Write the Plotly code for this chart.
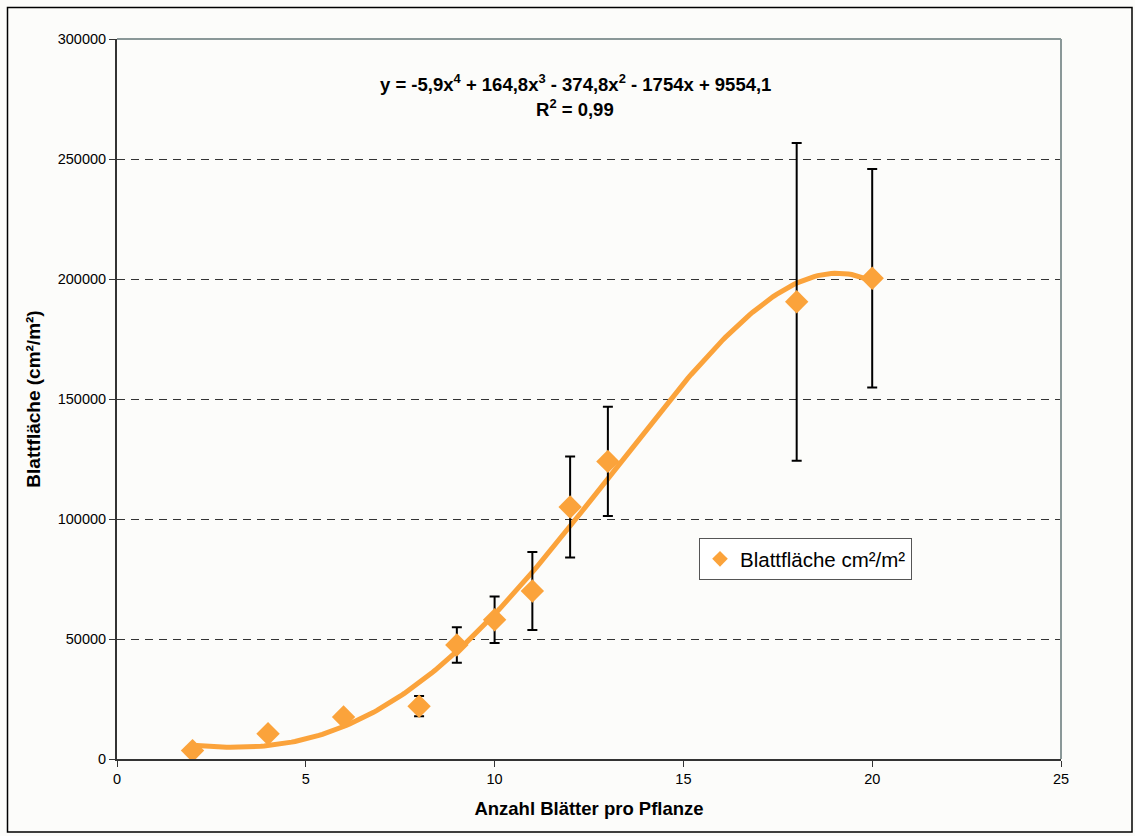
import numpy as np
import plotly.graph_objects as go

# Data
blaetter = [2, 4, 6, 8, 9, 10, 11, 12, 13, 18, 20]
flaeche = [3500, 10500, 17500, 22000, 47500, 58000, 70000, 105000, 124000, 190500, 200300]
fehler = [0, 0, 0, 4200, 7400, 9700, 16300, 21000, 22800, 66200, 45500]
# polynomial trend coefficients (from the equation shown, highest power first)
trend_coef = [-5.9, 164.8, -374.8, -1754, 9554.1]

x_ticks = [0, 5, 10, 15, 20, 25]
y_ticks = [0, 50000, 100000, 150000, 200000, 250000, 300000]

orange = "#fba33b"
font = "Liberation Sans, Arial, sans-serif"

xs = np.linspace(min(blaetter), max(blaetter), 200)
ys = np.polyval(trend_coef, xs)

fig = go.Figure()
fig.add_trace(go.Scatter(x=xs, y=ys, mode="lines", line=dict(color=orange, width=5),
                         showlegend=False, hoverinfo="skip"))
fig.add_trace(go.Scatter(
    x=blaetter, y=flaeche, mode="markers", name="Blattfläche cm²/m²",
    marker=dict(symbol="diamond", size=18, color=orange),
    error_y=dict(type="data", array=fehler, visible=True, color="#000000", thickness=2, width=5),
))

W, H = 1135, 836
L, R, T, B = 117, 1061, 39, 759

def px(xp):
    return (xp - L) / (R - L)

def py(yp):
    return (B - yp) / (B - T)

fig.update_layout(
    width=W, height=H,
    margin=dict(l=L, r=W - R, t=T, b=H - B),
    paper_bgcolor="#fcfcfa", plot_bgcolor="#fcfcfa",
    font=dict(family=font, color="#000000", size=15),
    showlegend=True,
    legend=dict(x=px(699), y=py(538), xanchor="left", yanchor="top",
                bgcolor="#ffffff", bordercolor="#555555", borderwidth=1,
                font=dict(size=20.5, family=font), itemsizing="constant"),
    xaxis=dict(range=[0, 25], tickvals=x_ticks, ticks="outside", ticklen=6, tickwidth=1,
               tickcolor="#333333", showgrid=False, zeroline=False,
               showline=True, linecolor="#333333", linewidth=2,
               tickfont=dict(size=14.5, family=font),
               title=dict(text="<b>Anzahl Blätter pro Pflanze</b>", font=dict(size=18.5, family=font), standoff=16)),
    yaxis=dict(range=[0, 300000], tickvals=y_ticks, ticks="outside", ticklen=6, tickwidth=1,
               tickcolor="#333333", showgrid=True, gridcolor="#333333", gridwidth=1, griddash="8px,6px",
               zeroline=False, showline=True, linecolor="#333333", linewidth=2,
               tickformat="d", tickfont=dict(size=14.5, family=font),
               title=dict(text="<b>Blattfläche (cm²/m²)</b>", font=dict(size=19, family=font), standoff=12)),
    shapes=[
        dict(type="line", xref="paper", yref="paper", x0=0, x1=1, y0=1, y1=1,
             line=dict(color="#8a9898", width=2), layer="above"),
        dict(type="line", xref="paper", yref="paper", x0=1, x1=1, y0=0, y1=1,
             line=dict(color="#8a9898", width=2), layer="above"),
        dict(type="rect", xref="paper", yref="paper", x0=px(7.5), x1=px(1132), y0=py(7.5), y1=py(832),
             line=dict(color="#000000", width=1.5), layer="above"),
    ],
    annotations=[
        dict(xref="paper", yref="paper", x=px(575), y=py(83), xanchor="center", yanchor="middle",
             text="<b>y = -5,9x<sup>4</sup> + 164,8x<sup>3</sup> - 374,8x<sup>2</sup> - 1754x + 9554,1</b>",
             showarrow=False, font=dict(size=18.5, family=font)),
        dict(xref="paper", yref="paper", x=px(575), y=py(108), xanchor="center", yanchor="middle",
             text="<b>R<sup>2</sup> = 0,99</b>", showarrow=False, font=dict(size=18.5, family=font)),
    ],
)

fig.write_html("out.html", config={"displayModeBar": False},
               post_script="document.body.style.margin='0px';")
